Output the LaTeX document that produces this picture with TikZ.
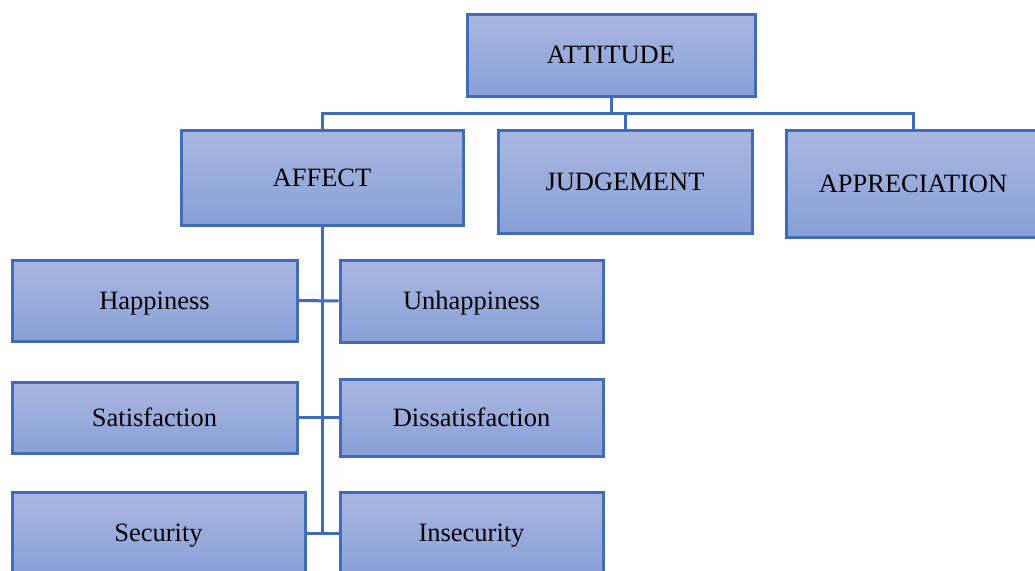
\documentclass[tikz,border=0pt]{standalone}
\usepackage{fontspec}
\setmainfont{Liberation Serif}
\definecolor{edge}{RGB}{64,108,185}
\definecolor{topc}{RGB}{170,183,225}
\definecolor{botc}{RGB}{136,160,215}
\begin{document}
\begin{tikzpicture}[x=1pt,y=-1pt,
  box/.style={draw=edge,line width=3pt,top color=topc,bottom color=botc,
    inner sep=0pt,font=\fontsize{26.5}{30}\selectfont,text=black,
    text height=17.5pt,text depth=0pt},
  link/.style={draw=edge,line width=3pt}]
\useasboundingbox (0,0) rectangle (1035,570);
\clip (0,0) rectangle (1035,570);
\node[box,minimum width=288pt,minimum height=82pt] (att) at (611,55) {ATTITUDE};
\node[box,minimum width=282pt,minimum height=95pt] (aff) at (322,177.5) {AFFECT};
\node[box,minimum width=254pt,minimum height=103pt] (jud) at (625,181.5) {JUDGEMENT};
\node[box,minimum width=254pt,minimum height=107pt] (app) at (913,183.5) {APPRECIATION};
\node[box,minimum width=285pt,minimum height=81pt] (hap) at (154.5,300.5) {Happiness};
\node[box,minimum width=263pt,minimum height=82pt] (unh) at (471.5,301) {Unhappiness};
\node[box,minimum width=285pt,minimum height=71pt] (sat) at (154.5,417.5) {Satisfaction};
\node[box,minimum width=263pt,minimum height=77pt] (dis) at (471.5,417.5) {Dissatisfaction};
\node[box,minimum width=293pt,minimum height=82pt] (sec) at (158.5,533) {Security};
\node[box,minimum width=263pt,minimum height=82pt] (ins) at (471.5,533) {Insecurity};
\coordinate (bus) at (611,113);
\draw[link] (att.south) -- (bus);
\draw[link] (aff.north) -- (aff.north |- bus) -- (app.north |- bus) -- (app.north);
\draw[link] (jud.north) -- (jud.north |- bus);
\draw[link] (aff.south) -- (aff.south |- sec.east);
\draw[link] (hap.east) -- (unh.west);
\draw[link] (sat.east) -- (dis.west);
\draw[link] (sec.east) -- (ins.west);
\end{tikzpicture}
\end{document}
